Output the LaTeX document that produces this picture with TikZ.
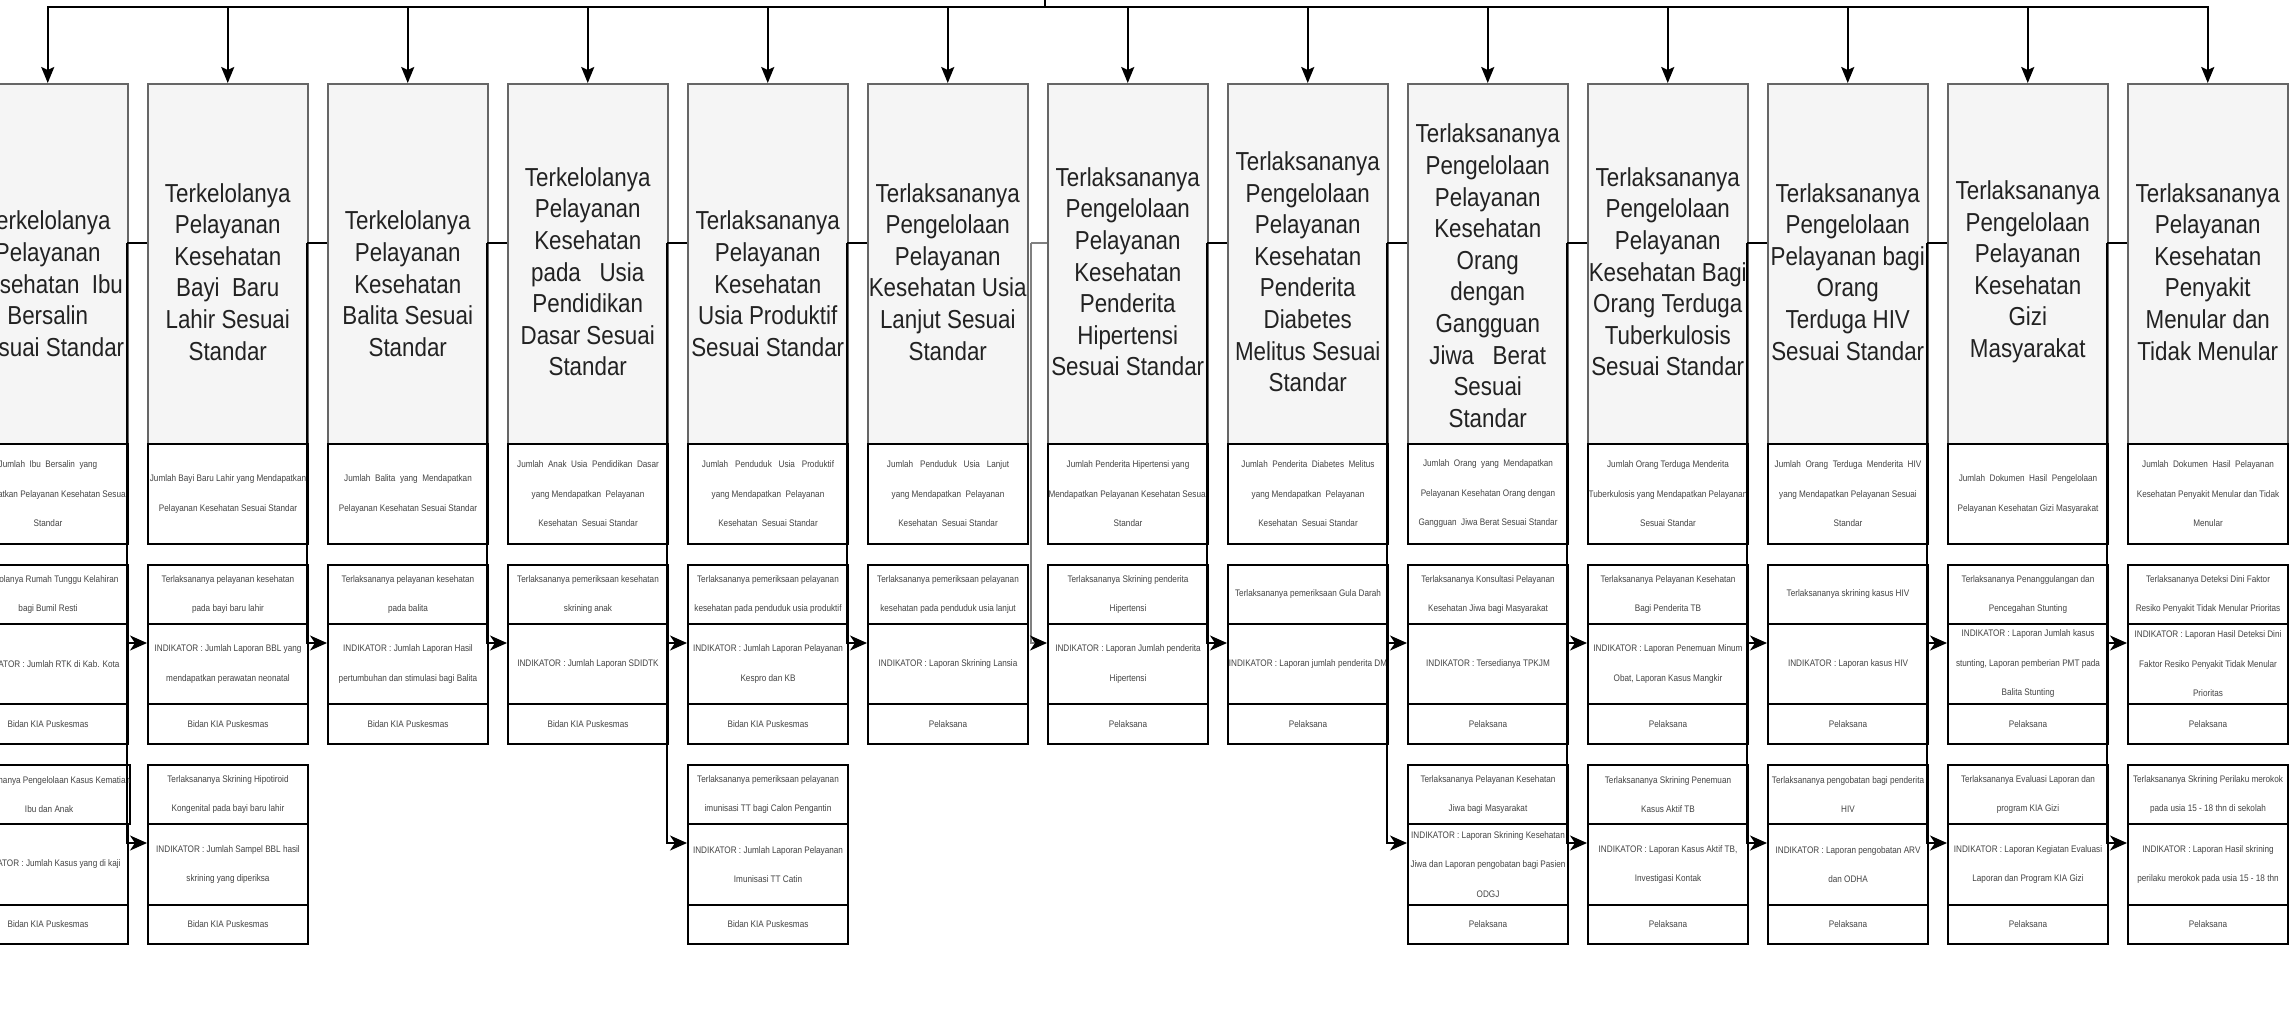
\documentclass[tikz,border=0pt]{standalone}
\usepackage{fontspec}
\setmainfont{Liberation Sans}
\newfontfamily\hdfont[FakeStretch=0.86]{Liberation Sans}
\usetikzlibrary{arrows.meta,calc}
\definecolor{hdfill}{HTML}{F5F5F5}
\definecolor{hdgray}{HTML}{666666}
\definecolor{txt}{HTML}{222222}
\definecolor{stxt}{HTML}{444444}
\tikzset{
  hbox/.style={draw=hdgray, fill=hdfill, line width=0.75pt, minimum width=80pt, minimum height=180pt,
    anchor=north west, inner sep=0pt},
  htext/.style={inner sep=0pt, align=center, text=txt, font=\hdfont\fontsize{13}{15.8}\selectfont},
  sbox/.style={draw=black, fill=white, line width=1pt, minimum width=80pt, anchor=north west,
    inner sep=0pt, align=center, text=stxt, font=\hdfont\fontsize{4.75}{14.75}\selectfont},
  conn/.style={draw=black, line width=1pt},
  topar/.style={draw=black, line width=1pt, -{Stealth[length=8pt,width=6.5pt,inset=1.5pt]}},
  sidear/.style={draw=black, line width=1pt, -{Stealth[length=8.5pt,width=7.5pt,inset=2.5pt,color=black]}},
}
% #1 index, #2 text shift (px, downward), #3 header, #4 A, #5 B1, #6 B2, #7 B3
\newcommand\mkcol[7]{%
  \pgfmathsetmacro\xl{-33+(#1-1)*180}
  \node[hbox] (h#1) at (\xl,83) {};
  \node[htext] (ht#1) at ($(h#1.center)+(0,#2)$) {#3};
  \node[sbox, minimum height=50pt] (a#1) at (\xl,443) {#4};
  \node[sbox, minimum height=29.5pt] (bA#1) at (\xl,564) {#5};
  \node[sbox, minimum height=40pt] (bB#1) at (\xl,623) {#6};
  \node[sbox, minimum height=20pt] (bC#1) at (\xl,703) {#7};
}
\newcommand\mkextra[4]{%
  \pgfmathsetmacro\xl{-33+(#1-1)*180}
  \node[sbox, minimum height=29.5pt] (cA#1) at (\xl,764) {#2};
  \node[sbox, minimum height=40.5pt] (cB#1) at (\xl,823) {#3};
  \node[sbox, minimum height=19.5pt] (cC#1) at (\xl,904) {#4};
}
\begin{document}
\begin{tikzpicture}[x=0.5pt,y=-0.5pt]
\useasboundingbox (0,0) rectangle (2292,1009);
\fill[white] (0,0) rectangle (2292,1009);
\clip (0,0) rectangle (2292,1009);

\mkcol{1}{20}{Terkelolanya\\Pelayanan\\Kesehatan\ \ Ibu\\Bersalin\\Sesuai Standar}
  {Jumlah\ \ Ibu\ \ Bersalin\ \ yang\\Mendapatkan Pelayanan Kesehatan Sesuai\\Standar}
  {Terkelolanya Rumah Tunggu Kelahiran\\bagi Bumil Resti}
  {INDIKATOR : Jumlah RTK di Kab. Kota}
  {Bidan KIA Puskesmas}
\mkextra{1}{Terlaksananya Pengelolaan Kasus Kematian\\Ibu dan Anak}
  {INDIKATOR : Jumlah Kasus yang di kaji}
  {Bidan KIA Puskesmas}

\mkcol{2}{8}{Terkelolanya\\Pelayanan\\Kesehatan\\Bayi\ \ Baru\\Lahir Sesuai\\Standar}
  {Jumlah Bayi Baru Lahir yang Mendapatkan\\Pelayanan Kesehatan Sesuai Standar}
  {Terlaksananya pelayanan kesehatan\\pada bayi baru lahir}
  {INDIKATOR : Jumlah Laporan BBL yang\\mendapatkan perawatan neonatal}
  {Bidan KIA Puskesmas}
\mkextra{2}{Terlaksananya Skrining Hipotiroid\\Kongenital pada bayi baru lahir}
  {INDIKATOR : Jumlah Sampel BBL hasil\\skrining yang diperiksa}
  {Bidan KIA Puskesmas}

\mkcol{3}{20}{Terkelolanya\\Pelayanan\\Kesehatan\\Balita Sesuai\\Standar}
  {Jumlah\ \ Balita\ \ yang\ \ Mendapatkan\\Pelayanan Kesehatan Sesuai Standar}
  {Terlaksananya pelayanan kesehatan\\pada balita}
  {INDIKATOR : Jumlah Laporan Hasil\\pertumbuhan dan stimulasi bagi Balita}
  {Bidan KIA Puskesmas}

\mkcol{4}{8}{Terkelolanya\\Pelayanan\\Kesehatan\\pada\ \ \ Usia\\Pendidikan\\Dasar Sesuai\\Standar}
  {Jumlah\ \ Anak\ \ Usia\ \ Pendidikan\ \ Dasar\\yang Mendapatkan\ \ Pelayanan\\Kesehatan\ \ Sesuai Standar}
  {Terlaksananya pemeriksaan kesehatan\\skrining anak}
  {INDIKATOR : Jumlah Laporan SDIDTK}
  {Bidan KIA Puskesmas}

\mkcol{5}{20}{Terlaksananya\\Pelayanan\\Kesehatan\\Usia Produktif\\Sesuai Standar}
  {Jumlah\ \ \ Penduduk\ \ \ Usia\ \ \ Produktif\\yang Mendapatkan\ \ Pelayanan\\Kesehatan\ \ Sesuai Standar}
  {Terlaksananya pemeriksaan pelayanan\\kesehatan pada penduduk usia produktif}
  {INDIKATOR : Jumlah Laporan Pelayanan\\Kespro dan KB}
  {Bidan KIA Puskesmas}
\mkextra{5}{Terlaksananya pemeriksaan pelayanan\\imunisasi TT bagi Calon Pengantin}
  {INDIKATOR : Jumlah Laporan Pelayanan\\Imunisasi TT Catin}
  {Bidan KIA Puskesmas}

\mkcol{6}{8}{Terlaksananya\\Pengelolaan\\Pelayanan\\Kesehatan Usia\\Lanjut Sesuai\\Standar}
  {Jumlah\ \ \ Penduduk\ \ \ Usia\ \ \ Lanjut\\yang Mendapatkan\ \ Pelayanan\\Kesehatan\ \ Sesuai Standar}
  {Terlaksananya pemeriksaan pelayanan\\kesehatan pada penduduk usia lanjut}
  {INDIKATOR : Laporan Skrining Lansia}
  {Pelaksana}

\mkcol{7}{8}{Terlaksananya\\Pengelolaan\\Pelayanan\\Kesehatan\\Penderita\\Hipertensi\\Sesuai Standar}
  {Jumlah Penderita Hipertensi yang\\Mendapatkan Pelayanan Kesehatan Sesuai\\Standar}
  {Terlaksananya Skrining penderita\\Hipertensi}
  {INDIKATOR : Laporan Jumlah penderita\\Hipertensi}
  {Pelaksana}

\mkcol{8}{8}{Terlaksananya\\Pengelolaan\\Pelayanan\\Kesehatan\\Penderita\\Diabetes\\Melitus Sesuai\\Standar}
  {Jumlah\ \ Penderita\ \ Diabetes\ \ Melitus\\yang Mendapatkan\ \ Pelayanan\\Kesehatan\ \ Sesuai Standar}
  {Terlaksananya pemeriksaan Gula Darah}
  {INDIKATOR : Laporan jumlah penderita DM}
  {Pelaksana}

\mkcol{9}{12}{Terlaksananya\\Pengelolaan\\Pelayanan\\Kesehatan\\Orang\\dengan\\Gangguan\\Jiwa\ \ \ Berat\\Sesuai\\Standar}
  {Jumlah\ \ Orang\ \ yang\ \ Mendapatkan\\Pelayanan Kesehatan Orang dengan\\Gangguan\ \ Jiwa Berat Sesuai Standar}
  {Terlaksananya Konsultasi Pelayanan\\Kesehatan Jiwa bagi Masyarakat}
  {INDIKATOR : Tersedianya TPKJM}
  {Pelaksana}
\mkextra{9}{Terlaksananya Pelayanan Kesehatan\\Jiwa bagi Masyarakat}
  {INDIKATOR : Laporan Skrining Kesehatan\\Jiwa dan Laporan pengobatan bagi Pasien\\ODGJ}
  {Pelaksana}

\mkcol{10}{8}{Terlaksananya\\Pengelolaan\\Pelayanan\\Kesehatan Bagi\\Orang Terduga\\Tuberkulosis\\Sesuai Standar}
  {Jumlah Orang Terduga Menderita\\Tuberkulosis yang Mendapatkan Pelayanan\\Sesuai Standar}
  {Terlaksananya Pelayanan Kesehatan\\Bagi Penderita TB}
  {INDIKATOR : Laporan Penemuan Minum\\Obat, Laporan Kasus Mangkir}
  {Pelaksana}
\mkextra{10}{Terlaksananya Skrining Penemuan\\Kasus Aktif TB}
  {INDIKATOR : Laporan Kasus Aktif TB,\\Investigasi Kontak}
  {Pelaksana}

\mkcol{11}{8}{Terlaksananya\\Pengelolaan\\Pelayanan bagi\\Orang\\Terduga HIV\\Sesuai Standar}
  {Jumlah\ \ Orang\ \ Terduga\ \ Menderita\ \ HIV\\yang Mendapatkan Pelayanan Sesuai\\Standar}
  {Terlaksananya skrining kasus HIV}
  {INDIKATOR : Laporan kasus HIV}
  {Pelaksana}
\mkextra{11}{Terlaksananya pengobatan bagi penderita\\HIV}
  {INDIKATOR : Laporan pengobatan ARV\\dan ODHA}
  {Pelaksana}

\mkcol{12}{8}{Terlaksananya\\Pengelolaan\\Pelayanan\\Kesehatan\\Gizi\\Masyarakat}
  {Jumlah\ \ Dokumen\ \ Hasil\ \ Pengelolaan\\Pelayanan Kesehatan Gizi Masyarakat}
  {Terlaksananya Penanggulangan dan\\Pencegahan Stunting}
  {INDIKATOR : Laporan Jumlah kasus\\stunting, Laporan pemberian PMT pada\\Balita Stunting}
  {Pelaksana}
\mkextra{12}{Terlaksananya Evaluasi Laporan dan\\program KIA Gizi}
  {INDIKATOR : Laporan Kegiatan Evaluasi\\Laporan dan Program KIA Gizi}
  {Pelaksana}

\mkcol{13}{8}{Terlaksananya\\Pelayanan\\Kesehatan\\Penyakit\\Menular dan\\Tidak Menular}
  {Jumlah\ \ Dokumen\ \ Hasil\ \ Pelayanan\\Kesehatan Penyakit Menular dan Tidak\\Menular}
  {Terlaksananya Deteksi Dini Faktor\\Resiko Penyakit Tidak Menular Prioritas}
  {INDIKATOR : Laporan Hasil Deteksi Dini\\Faktor Resiko Penyakit Tidak Menular\\Prioritas}
  {Pelaksana}
\mkextra{13}{Terlaksananya Skrining Perilaku merokok\\pada usia 15 - 18 thn di sekolah}
  {INDIKATOR : Laporan Hasil skrining\\perilaku merokok pada usia 15 - 18 thn}
  {Pelaksana}

% top distribution
\coordinate (P) at (1045,0);
\coordinate (Pd) at (1045,7);
\foreach \i in {1,...,13}{
  \draw[topar] (P) -- (Pd) -| (h\i.north);
}

% side connectors
\foreach \i in {2,3,4,5,6,7,8,9,10,11,12,13}{
  \pgfmathsetmacro\xj{127+(\i-2)*180}
  \coordinate (j\i) at (\xj,243);
}
\coordinate (j7) at (1031,243);
\foreach \i in {2,3,4,5,6,8,9,10,11,12,13}{
  \draw[conn] (j\i) -- (j\i -| h\i.west);
  \draw[sidear] (j\i) |- ($(bB\i.north west)+(0,20)$);
}
\draw[conn,draw=gray] (j7) -- (j7 -| h7.west);
\draw[sidear,draw=gray] (j7) |- ($(bB7.north west)+(0,20)$);
\foreach \i in {2,5,9,10,11,12,13}{
  \draw[sidear] (j\i) |- ($(cB\i.north west)+(0,20)$);
}
\end{tikzpicture}
\end{document}
